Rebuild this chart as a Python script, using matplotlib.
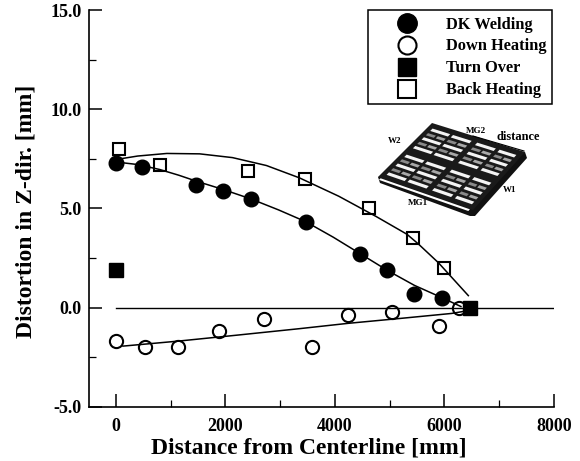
import matplotlib
matplotlib.use("Agg")
import matplotlib.pyplot as plt
from matplotlib.lines import Line2D
from matplotlib.patches import Polygon
from matplotlib.ticker import MultipleLocator
import numpy as np

W, H = 580, 461
plt.rcParams['font.family'] = ['Liberation Serif', 'DejaVu Serif']
plt.rcParams['font.weight'] = 'bold'

# marker readings
dk_x = [0, 470, 1470, 1960, 2470, 3470, 4460, 4960, 5450, 5950]
dk_y = [7.3, 7.1, 6.2, 5.9, 5.5, 4.3, 2.7, 1.9, 0.7, 0.5]
down_x = [0, 530, 1130, 1890, 2710, 3580, 4240, 5040, 5900, 6260]
down_y = [-1.7, -2.0, -2.0, -1.17, -0.6, -2.0, -0.4, -0.25, -0.95, 0.0]
turn_x = [0, 6460]
turn_y = [1.9, 0.0]
back_x = [50, 800, 2420, 3450, 4620, 5420, 6000]
back_y = [8.0, 7.2, 6.9, 6.5, 5.0, 3.5, 2.0]

# fitted curves
dk_fit_x = [0, 400, 800, 1150, 1470, 1960, 2470, 2970, 3470, 3970, 4460, 4960, 5450, 5950, 6300]
dk_fit_y = [7.35, 7.22, 6.97, 6.68, 6.38, 5.96, 5.48, 4.93, 4.33, 3.55, 2.72, 1.87, 1.12, 0.5, 0.05]
down_fit_x = [130, 1130, 2200, 3350, 4240, 5200, 6130, 6450]
down_fit_y = [-1.95, -1.7, -1.4, -1.07, -0.8, -0.55, -0.3, -0.15]
back_fit_x = [60, 400, 930, 1530, 2130, 2750, 3350, 4070, 4750, 5315, 5527, 5890, 6436]
back_fit_y = [7.5, 7.65, 7.78, 7.76, 7.57, 7.17, 6.55, 5.62, 4.6, 3.7, 3.2, 2.26, 0.6]

zero_x = [0, 8000]
zero_y = [0, 0]

x_ticks = [0, 2000, 4000, 6000, 8000]
y_ticks = [-5.0, 0.0, 5.0, 10.0, 15.0]
series_names = ['DK Welding', 'Down Heating', 'Turn Over', 'Back Heating']

fig = plt.figure(figsize=(W / 100, H / 100), dpi=100)
ax = fig.add_axes([89 / W, 1 - 406.5 / H, (554 - 89) / W, (406.5 - 10.5) / H])
ax.set_xlim(-490, 8000)
ax.set_ylim(-5, 15)

lw = 1.1
ax.plot(zero_x, zero_y, color='black', lw=1.0, zorder=2)
ax.plot(dk_fit_x, dk_fit_y, color='black', lw=lw, zorder=2)
ax.plot(down_fit_x, down_fit_y, color='black', lw=lw, zorder=2)
ax.plot(back_fit_x, back_fit_y, color='black', lw=lw, zorder=2)

ax.plot(down_x, down_y, 'o', mfc='none', mec='black', mew=1.5, ms=9.5, zorder=3)
ax.plot(back_x, back_y, 's', mfc='none', mec='black', mew=1.5, ms=9, zorder=3)
ax.plot(dk_x, dk_y, 'o', color='black', ms=10.5, zorder=4)
ax.plot(turn_x, turn_y, 's', color='black', ms=9.5, zorder=5)

for s in ('top', 'right'):
    ax.spines[s].set_visible(False)
for s in ('left', 'bottom'):
    ax.spines[s].set_linewidth(1.2)

ax.set_xticks(x_ticks)
ax.set_yticks(y_ticks)
ax.set_yticklabels([f'{v:.1f}' for v in y_ticks])
ax.xaxis.set_minor_locator(MultipleLocator(1000))
ax.yaxis.set_minor_locator(MultipleLocator(2.5))
ax.tick_params(which='major', direction='in', length=9.5, width=1.1, labelsize=13)
ax.tick_params(which='minor', direction='in', length=5, width=0.9)
ax.tick_params(axis='x', which='major', pad=8)
ax.tick_params(axis='y', which='major', pad=5.5)
fig.text(309 / W, 1 - 448 / H, 'Distance from Centerline [mm]', fontsize=17,
         ha='center', va='center', fontweight='bold')
fig.text(26 / W, 1 - 211 / H, 'Distortion in Z-dir. [mm]', fontsize=17, rotation=90,
         ha='center', va='center', fontweight='bold')

handles = [
    Line2D([], [], ls='', marker='o', color='black', ms=14),
    Line2D([], [], ls='', marker='o', mfc='none', mec='black', mew=1.5, ms=13),
    Line2D([], [], ls='', marker='s', color='black', ms=13.5),
    Line2D([], [], ls='', marker='s', mfc='none', mec='black', mew=1.5, ms=13),
]
leg = ax.legend(handles, series_names, loc='upper left',
                bbox_to_anchor=(368 / W, 1 - 10.5 / H), bbox_transform=fig.transFigure,
                frameon=True, fancybox=False, edgecolor='black',
                framealpha=1, borderaxespad=0, borderpad=0.37, labelspacing=0.36,
                handlelength=4.0, handletextpad=0.37, numpoints=1,
                prop={'family': 'Liberation Serif', 'weight': 'bold', 'size': 11.8})
leg.get_frame().set_linewidth(1.1)
leg.set_zorder(6)


# small plate sketch (decoration), positioned in figure pixels
def px(x, y):
    return (x / W, 1 - y / H)


top, right, bottom, left = (432, 123), (525, 152), (473, 210), (378, 177)


def plate(u, v):
    a = np.array(left) + (np.array(top) - np.array(left)) * v
    b = np.array(bottom) + (np.array(right) - np.array(bottom)) * v
    p = a + (b - a) * u
    return px(*p)


def quad(u0, u1, v0, v1, **kw):
    fig.add_artist(Polygon([plate(u0, v0), plate(u1, v0), plate(u1, v1), plate(u0, v1)],
                           closed=True, transform=fig.transFigure, lw=0, **kw))


fig.add_artist(Polygon([px(378, 177), px(380, 183), px(470, 216), px(475, 216),
                        px(527, 158), px(525, 152)], closed=True,
                       transform=fig.transFigure, fc='#111111', ec='none'))
quad(0, 1, 0, 1, fc='#1a1a1a')
quad(0.03, 0.97, -0.035, -0.005, fc='white')
for cu0, cu1 in ((0.05, 0.24), (0.27, 0.47), (0.53, 0.73), (0.77, 0.95)):
    for cv0, cv1 in ((0.05, 0.46), (0.54, 0.94)):
        n = 5
        for i in range(n):
            dv = (cv1 - cv0) / n
            v0 = cv0 + i * dv + dv * 0.25
            if i % 2 == 0:
                quad(cu0, cu1, v0, v0 + dv * 0.55, fc='#f4f4f4')
            else:
                quad(cu0, (cu0 + cu1) / 2 - 0.01, v0, v0 + dv * 0.5, fc='#8a8a8a')
                quad((cu0 + cu1) / 2 + 0.01, cu1, v0, v0 + dv * 0.5, fc='#a8a8a8')

fig.add_artist(Line2D([473 / W, 524 / W], [1 - 136 / H, 1 - 151 / H],
                      transform=fig.transFigure, color='black', lw=0.8))
for t, x, y, fs in (('W2', 395, 141, 6.5), ('MG2', 476, 131, 6.5), ('distance', 518, 137, 9),
                    ('W1', 510, 190, 6.5), ('MG1', 418, 203, 6.5)):
    fig.text(x / W, 1 - y / H, t, fontsize=fs, ha='center', va='center', fontweight='bold')

fig.savefig('out.png', dpi=100, facecolor='white')
